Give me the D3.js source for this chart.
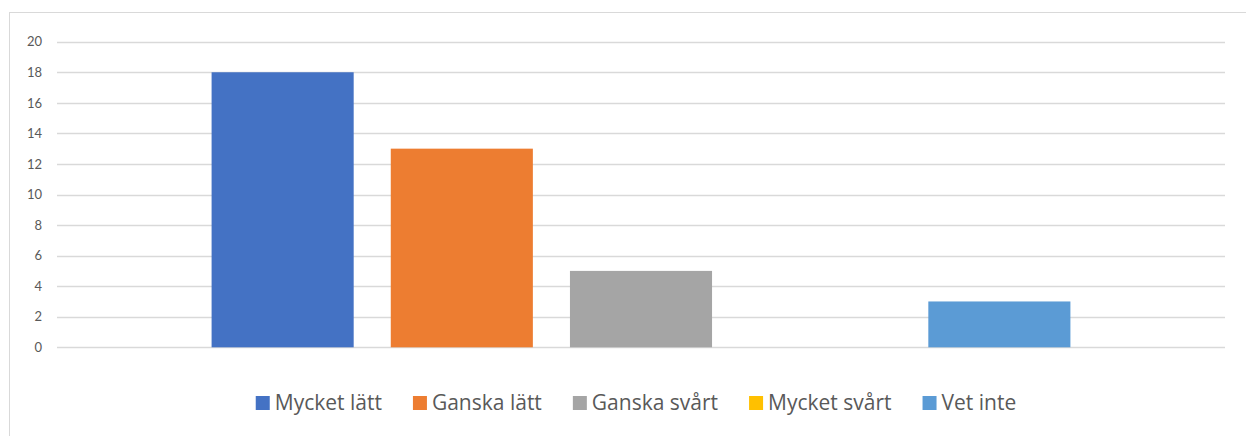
<!DOCTYPE html>
<html>
<head>
<meta charset="utf-8">
<script src="https://cdn.jsdelivr.net/npm/d3@7"></script>
<style>
  html, body { margin: 0; padding: 0; background: #fff; }
  svg { display: block; font-family: "Lato", "Open Sans", sans-serif; }
</style>
</head>
<body>
<svg id="canvas" width="1246" height="436"></svg>
<script>
// data
const series = ["Mycket lätt", "Ganska lätt", "Ganska svårt", "Mycket svårt", "Vet inte"];
const values = [18, 13, 5, 0, 3];
const colors = ["#4472C4", "#ED7D31", "#A5A5A5", "#FFC000", "#5B9BD5"];
const yTicks = [0, 2, 4, 6, 8, 10, 12, 14, 16, 18, 20];

const svg = d3.select("#canvas");

// chart border (runs off the right/bottom edge)
svg.append("rect")
    .attr("x", 9.5)
    .attr("y", 12.5)
    .attr("width", 1400)
    .attr("height", 600)
    .attr("fill", "none")
    .attr("stroke", "#d9d9d9");

const plotLeft = 57, plotRight = 1225;
const y = d3.scaleLinear().domain([0, 20]).range([347.3, 41.7]);

// one category, five series inside it
const cat = d3.scaleBand().domain(["c"]).range([plotLeft, plotRight]).paddingOuter(0.18);
const x = d3.scaleBand()
    .domain(series)
    .range([cat("c"), cat("c") + cat.bandwidth()])
    .paddingInner(0.207);

// gridlines
svg.append("g")
    .selectAll("line")
    .data(yTicks)
    .enter()
    .append("line")
    .attr("x1", plotLeft)
    .attr("x2", plotRight)
    .attr("y1", (d) => Math.round(y(d)) + 0.5)
    .attr("y2", (d) => Math.round(y(d)) + 0.5)
    .attr("stroke", "#d9d9d9")
    .attr("stroke-width", 1.3);

// y labels
svg.append("g")
    .selectAll("text")
    .data(yTicks)
    .enter()
    .append("text")
    .attr("x", 42)
    .attr("y", (d) => y(d))
    .attr("dy", "0.36em")
    .attr("text-anchor", "end")
    .style("font-size", "13px")
    .attr("fill", "#595959")
    .text((d) => d);

// bars
svg.append("g")
    .selectAll("rect")
    .data(series)
    .enter()
    .append("rect")
    .attr("x", (d) => x(d))
    .attr("y", (d, i) => y(values[i]))
    .attr("width", x.bandwidth())
    .attr("height", (d, i) => y(0) - y(values[i]))
    .attr("fill", (d, i) => colors[i]);

// legend, centred below the plot
const legend = svg.append("g");
const items = legend
    .selectAll("g")
    .data(series)
    .enter()
    .append("g");
items.append("rect")
    .attr("y", 396)
    .attr("width", 14)
    .attr("height", 14)
    .attr("fill", (d, i) => colors[i]);
items.append("text")
    .attr("x", 19)
    .attr("y", 410)
    .style("font-family", "'Open Sans', sans-serif")
    .style("font-size", "21px")
    .attr("fill", "#595959")
    .text((d) => d);

let pos = 0;
const offsets = [];
items.each(function () {
    offsets.push(pos);
    const w = d3.select(this).select("text").node().getComputedTextLength();
    pos += 19 + w + 31;
});
const total = pos - 31;
const start = 636 - total / 2;
items.attr("transform", (d, i) => "translate(" + (start + offsets[i]) + ",0)");
</script>
</body>
</html>
